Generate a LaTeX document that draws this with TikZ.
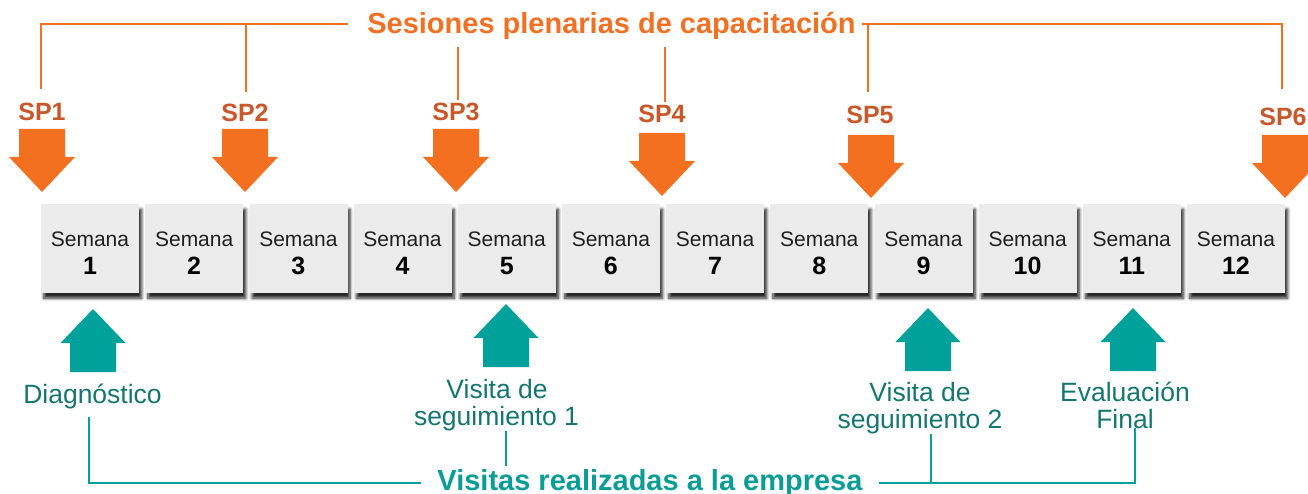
\documentclass[tikz,border=0pt]{standalone}
\usepackage{fontspec}
\setmainfont{Liberation Sans}
\usetikzlibrary{shadows.blur}
\definecolor{sporange}{HTML}{F37021}
\definecolor{titleor}{HTML}{F07024}
\definecolor{splabel}{HTML}{C8582A}
\definecolor{tealA}{HTML}{00A19B}
\definecolor{tealT}{HTML}{14766F}
\definecolor{tealB}{HTML}{0A9D96}
\definecolor{boxgray}{HTML}{EBEBEB}
\newcommand\orarrow[2]{\fill[sporange] (#1-23,#2) -- (#1+23,#2) -- (#1+23,#2+28) -- (#1+33,#2+28) -- (#1,#2+63) -- (#1-33,#2+28) -- (#1-23,#2+28) -- cycle;}
\newcommand\tlarrow[2]{\fill[tealA] (#1,#2) -- (#1+32.5,#2+34) -- (#1+23,#2+34) -- (#1+23,#2+63) -- (#1-23,#2+63) -- (#1-23,#2+34) -- (#1-32.5,#2+34) -- cycle;}
\tikzset{
  week/.style={fill=boxgray, inner sep=0pt, minimum width=98pt, minimum height=89pt, anchor=north west,
    blur shadow={shadow xshift=2.5pt, shadow yshift=-5pt, shadow blur radius=3pt, shadow opacity=85, shadow blur steps=6}},
  wtxt/.style={anchor=base, inner sep=0pt, text=black!88, font=\fontsize{21}{24}\selectfont},
  wnum/.style={anchor=base, inner sep=0pt, text=black, font=\fontsize{25}{27}\selectfont\bfseries},
  splab/.style={anchor=base, inner sep=0pt, text=splabel, font=\fontsize{25}{28}\selectfont\bfseries},
  oline/.style={draw=sporange, line width=2pt},
  tline/.style={draw=tealA, line width=2pt},
  ttext/.style={anchor=base, inner sep=0pt, text=tealT, font=\fontsize{26.5}{28}\selectfont},
}
\begin{document}
\begin{tikzpicture}[x=1pt,y=-1pt]
\useasboundingbox (0,0) rectangle (1308,494);
% week boxes
\foreach \i in {1,...,12}{
  \pgfmathsetmacro\lx{41+(\i-1)*104.18}
  \pgfmathsetmacro\cx{\lx+49}
  \node[week] (w\i) at (\lx,204) {};
  \node[wtxt] (t\i) at (\cx,247) {Semana};
  \node[wnum] (n\i) at (\cx,274) {\i};
}
% title
\node[anchor=base, inner xsep=17pt, inner ysep=7pt, text=titleor, font=\fontsize{29}{32}\selectfont\bfseries] (ttl) at (611.5,34) {Sesiones plenarias de capacitación};
\coordinate (tl) at (348,24);
\coordinate (tr) at (862,24);
% SP labels
\node[splab] (sp1) at (42,121) {SP1};
\node[splab] (sp2) at (245,122) {SP2};
\node[splab] (sp3) at (456,121) {SP3};
\node[splab] (sp4) at (662,123) {SP4};
\node[splab] (sp5) at (870,124) {SP5};
\node[splab] (sp6) at (1283,126) {SP6};
% orange bracket
\draw[oline, shorten >=14pt] (tl) -| ([xshift=-1pt]sp1.north);
\draw[oline, shorten <=12pt] ([xshift=1pt]sp2.north) -- ([xshift=1pt]sp2.north |- tl);
\draw[oline, shorten >=3pt] ([xshift=2pt]ttl.south -| sp3.north) -- ([xshift=2pt]sp3.north);
\draw[oline, shorten >=3pt] ([xshift=3pt]ttl.south -| sp4.north) -- ([xshift=3pt]sp4.north);
\draw[oline, shorten <=14pt] ([xshift=-2pt]sp5.north) -- ([xshift=-2pt]sp5.north |- tr);
\draw[oline, shorten >=19pt] (tr) -| ([xshift=-1pt]sp6.north);
% orange arrows
\orarrow{42}{129}
\orarrow{245}{129}
\orarrow{456}{129}
\orarrow{662}{133}
\orarrow{871}{135}
\orarrow{1285}{135}
% teal arrows
\tlarrow{93}{309}
\tlarrow{506}{304}
\tlarrow{928}{308}
\tlarrow{1133}{308}
% teal texts
\node[ttext] (diag) at (92.5,403) {Diagnóstico};
\node[ttext] (v1a) at (497,398) {Visita de};
\node[ttext] (v1b) at (496.5,425) {seguimiento 1};
\node[ttext] (v2a) at (920,401) {Visita de};
\node[ttext] (v2b) at (920,428) {seguimiento 2};
\node[ttext] (eva) at (1125,401) {Evaluación};
\node[ttext] (evb) at (1125,428) {Final};
\node[anchor=base, inner xsep=16pt, inner ysep=3pt, text=tealB, font=\fontsize{29}{32}\selectfont\bfseries] (vt) at (650,490) {Visitas realizadas a la empresa};
% teal connectors
\coordinate (lx1) at (89,0);
\coordinate (lx2) at (506,0);
\coordinate (lx3) at (931,0);
\coordinate (lx4) at (1135,0);
\draw[tline, shorten <=8pt] (diag.south -| lx1) |- (vt.west);
\draw[tline] (v1b.south -| lx2) -- (vt.north -| lx2);
\draw[tline] (vt.east) -| (evb.south -| lx4);
\draw[tline] (v2b.south -| lx3) -- (vt.east -| lx3);
\end{tikzpicture}
\end{document}
